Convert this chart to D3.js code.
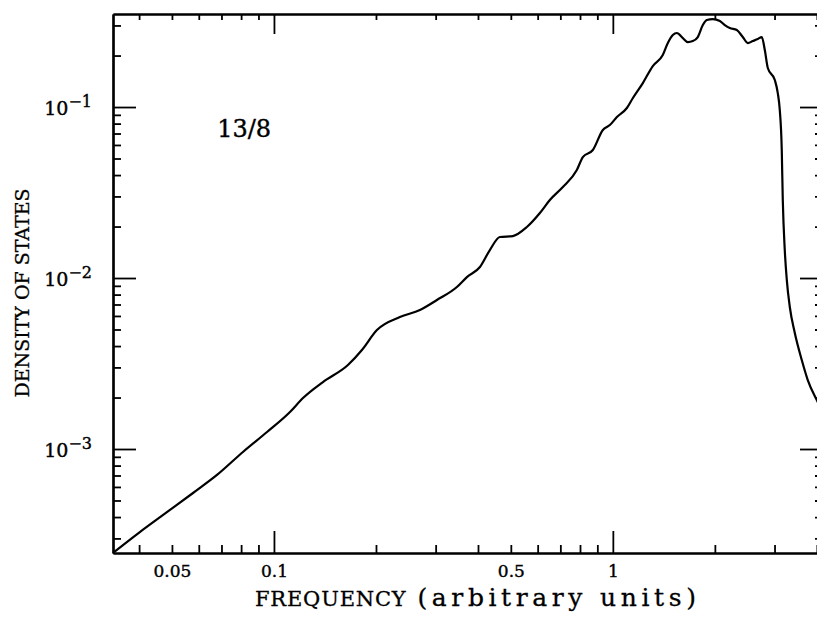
<!DOCTYPE html>
<html>
<head>
<meta charset="utf-8">
<script src="https://cdn.jsdelivr.net/npm/d3@7"></script>
<style>
  body { margin: 0; background: #fff; }
  svg { display: block; }
</style>
</head>
<body>
<div id="chart"></div>
<script>
// frequency (arbitrary units) and density of states
const freq = [0.0335, 0.0402, 0.0471, 0.0577, 0.0679, 0.0810, 0.0954, 0.1115, 0.1218, 0.1395,
  0.1653, 0.1818, 0.2013, 0.2353, 0.2696, 0.3026, 0.3466, 0.3710, 0.4053, 0.4336,
  0.4642, 0.5070, 0.5576, 0.6091, 0.6518, 0.7120, 0.7830, 0.8156, 0.8730, 0.9344,
  0.9798, 1.028, 1.100, 1.146, 1.226, 1.312, 1.404, 1.453, 1.503, 1.545,
  1.609, 1.664, 1.722, 1.781, 1.843, 1.894, 1.972, 2.069, 2.140, 2.214,
  2.322, 2.418, 2.502, 2.588, 2.677, 2.751, 2.808, 2.866, 3.006, 3.067,
  3.109, 3.151, 3.173, 3.216, 3.261, 3.328, 3.443, 3.610, 3.760, 3.998, 4.164];
const dos = [2.47e-4, 3.27e-4, 4.12e-4, 5.53e-4, 7.05e-4, 9.61e-4, 1.257e-3, 1.646e-3, 1.987e-3, 2.465e-3,
  3.098e-3, 3.792e-3, 4.965e-3, 5.913e-3, 6.499e-3, 7.434e-3, 8.858e-3, 1.013e-2, 1.160e-2, 1.458e-2,
  1.737e-2, 1.760e-2, 1.987e-2, 2.399e-2, 2.858e-2, 3.405e-2, 4.281e-2, 5.100e-2, 5.605e-2, 7.337e-2,
  7.845e-2, 8.74e-2, 9.87e-2, 0.1129, 0.1381, 0.1737, 0.2014, 0.2367, 0.2637, 0.2709,
  0.2532, 0.2399, 0.2432, 0.2566, 0.3017, 0.3228, 0.3271, 0.3184, 0.3017, 0.2897,
  0.2820, 0.2566, 0.2367, 0.2432, 0.2498, 0.2566, 0.2154, 0.1690, 0.1438, 0.1207,
  9.61e-2, 5.605e-2, 2.858e-2, 1.458e-2, 9.73e-3, 6.77e-3, 4.77e-3, 3.315e-3, 2.532e-3, 1.934e-3, 1.646e-3];

const xDomain = [0.0335, 4.17];
const yDomain = [2.465e-4, 0.35];
const xMajor = [0.1, 1];
const xMinor = [0.04, 0.05, 0.06, 0.07, 0.08, 0.09, 0.2, 0.3, 0.4, 0.5, 0.6, 0.7, 0.8, 0.9, 2, 3, 4];
const xLabels = [0.05, 0.1, 0.5, 1];
const yMajor = [1e-3, 1e-2, 1e-1];
const yMinor = [3e-4, 4e-4, 5e-4, 6e-4, 7e-4, 8e-4, 9e-4,
  2e-3, 3e-3, 4e-3, 5e-3, 6e-3, 7e-3, 8e-3, 9e-3,
  2e-2, 3e-2, 4e-2, 5e-2, 6e-2, 7e-2, 8e-2, 9e-2, 2e-1, 3e-1];
const label = '13/8';
const labelPos = [0.068, 0.067];

const width = 817;
const height = 638;
const margin = {top: 14, right: -6, bottom: 85, left: 113};
const font = '"DejaVu Serif", "Liberation Serif", serif';

const x = d3.scaleLog().domain(xDomain).range([margin.left, width - margin.right]);
const y = d3.scaleLog().domain(yDomain).range([height - margin.bottom, margin.top]);

const svg = d3.select('#chart')
  .append('svg')
  .attr('width', width)
  .attr('height', height)
  .style('background', '#fff');

// axis helper: draws an axis with inward ticks and no labels
function ticksOnly(axisFn, scale, values, size, transform) {
  const g = svg.append('g')
    .attr('transform', transform)
    .call(axisFn(scale).tickValues(values).tickSizeInner(-size).tickSizeOuter(0).tickFormat(''));
  g.select('.domain').attr('stroke', '#000').attr('stroke-width', 2.2);
  g.selectAll('.tick line').attr('stroke', '#000').attr('stroke-width', 1.8);
  return g;
}

const yB = height - margin.bottom;
const xR = width - margin.right;

// bottom
ticksOnly(d3.axisBottom, x, xMinor, 8, `translate(0,${yB})`);
ticksOnly(d3.axisBottom, x, xMajor, 22, `translate(0,${yB})`);
// top
ticksOnly(d3.axisTop, x, xMinor, 6, `translate(0,${margin.top})`);
ticksOnly(d3.axisTop, x, xMajor, 20, `translate(0,${margin.top})`);
// left
ticksOnly(d3.axisLeft, y, yMinor, 8, `translate(${margin.left},0)`);
ticksOnly(d3.axisLeft, y, yMajor, 23, `translate(${margin.left},0)`);
// right
ticksOnly(d3.axisRight, y, yMinor, 8, `translate(${xR},0)`);
ticksOnly(d3.axisRight, y, yMajor, 23, `translate(${xR},0)`);

// x tick labels
const xl = svg.append('g')
  .attr('transform', `translate(0,${yB})`)
  .call(d3.axisBottom(x).tickValues(xLabels).tickSize(0).tickPadding(12)
    .tickFormat(d => String(d)));
xl.select('.domain').remove();
xl.attr('font-family', font).attr('font-size', 17);
xl.selectAll('text').attr('fill', '#000').attr('stroke', '#000').attr('stroke-width', 0.4);

// y tick labels, 10 with superscript exponent
const yl = svg.append('g')
  .attr('transform', `translate(${margin.left},0)`)
  .call(d3.axisLeft(y).tickValues(yMajor).tickSize(0).tickPadding(21).tickFormat(''));
yl.select('.domain').remove();
yl.attr('font-family', font).attr('font-size', 19);
yl.selectAll('text')
  .attr('fill', '#000')
  .attr('stroke', '#000')
  .attr('stroke-width', 0.4)
  .attr('dy', '0.4em')
  .each(function(d) {
    const t = d3.select(this);
    t.append('tspan').text('10');
    t.append('tspan').attr('dy', -8).attr('font-size', 16)
      .text('\u2212' + Math.round(-Math.log10(d)));
  });

// the curve
const line = d3.line()
  .x((d, i) => x(freq[i]))
  .y((d, i) => y(dos[i]))
  .curve(d3.curveMonotoneX);

svg.append('path')
  .datum(freq)
  .attr('d', line)
  .attr('fill', 'none')
  .attr('stroke', '#000')
  .attr('stroke-width', 2.2)
  .attr('stroke-linejoin', 'round');

// annotation
svg.append('text')
  .attr('x', x(labelPos[0]))
  .attr('y', y(labelPos[1]))
  .attr('font-family', font)
  .attr('font-size', 24)
  .attr('stroke', '#000')
  .attr('stroke-width', 0.4)
  .text(label);

// axis titles (typed lettering, wide spacing)
const xt = svg.append('text')
  .attr('x', 255)
  .attr('y', 606)
  .attr('font-family', font)
  .attr('fill', '#000')
  .attr('stroke', '#000')
  .attr('stroke-width', 0.3);
xt.append('tspan').attr('font-size', 21).attr('letter-spacing', 0.8).text('FREQUENCY');
xt.append('tspan').attr('dx', 11).attr('font-size', 25).attr('letter-spacing', 4.6).text('(arbitrary');
xt.append('tspan').attr('dx', 13).attr('font-size', 25).attr('letter-spacing', 4.6).text('units)');

svg.append('text')
  .attr('transform', 'translate(29,293) rotate(-90)')
  .attr('text-anchor', 'middle')
  .attr('font-family', font)
  .attr('font-size', 19)
  .attr('fill', '#000')
  .attr('stroke', '#000')
  .attr('stroke-width', 0.3)
  .text('DENSITY OF STATES');
</script>
</body>
</html>
